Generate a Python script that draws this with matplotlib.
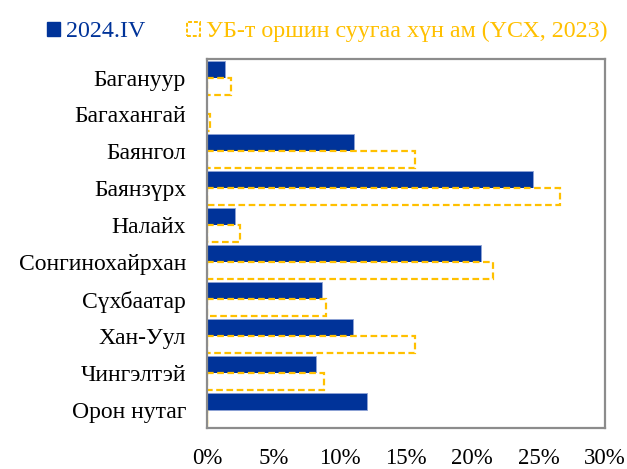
import numpy as np
import matplotlib.pyplot as plt
from matplotlib.patches import Patch
from matplotlib.ticker import PercentFormatter

plt.rcParams['font.family'] = ['Liberation Serif', 'DejaVu Serif']

districts = ['Багануур', 'Багахангай', 'Баянгол', 'Баянзүрх', 'Налайх',
             'Сонгинохайрхан', 'Сүхбаатар', 'Хан-Уул', 'Чингэлтэй', 'Орон нутаг']
q2024 = [1.35, 0.0, 11.1, 24.6, 2.15, 20.65, 8.7, 11.0, 8.2, 12.1]
pop2023 = [1.8, 0.25, 15.7, 26.6, 2.5, 21.55, 8.95, 15.7, 8.8, 0.0]

blue = '#003399'
orange = '#FFC000'

fig = plt.figure(figsize=(6.27, 4.69), dpi=100)
ax = fig.add_axes([0.330, 0.087, 0.635, 0.787])

y = np.arange(len(districts))
h = 0.46
ax.barh(y - h / 2, q2024, height=h, color=blue, edgecolor='#8fa3d6', linewidth=0.6)
ax.barh(y + h / 2, pop2023, height=h, facecolor='white', edgecolor=orange,
        linewidth=1.6, linestyle=(0, (3, 1.6)))

ax.set_ylim(len(districts) - 0.5, -0.5)
ax.set_xlim(0, 30)
ax.set_xticks(range(0, 31, 5))
ax.xaxis.set_major_formatter(PercentFormatter(decimals=0))
ax.set_yticks(y)
ax.set_yticklabels(districts)
ax.tick_params(axis='both', length=0, colors='black')
ax.tick_params(axis='y', pad=15, labelsize=17)
ax.tick_params(axis='x', pad=14, labelsize=16.5)
for s in ax.spines.values():
    s.set_color('#8c8c8c')
    s.set_linewidth(1.6)

handles = [Patch(facecolor=blue, edgecolor=blue),
           Patch(facecolor='white', edgecolor=orange, linestyle=(0, (2, 1)), linewidth=1.4)]
fig.legend(handles, ['2024.IV', 'УБ-т оршин суугаа хүн ам (ҮСХ, 2023)'],
           loc='center', bbox_to_anchor=(0.522, 0.932), ncol=2, frameon=False,
           fontsize=17.3, handlelength=0.55, handleheight=0.55, handletextpad=0.25,
           columnspacing=1.75, labelcolor=[blue, orange])

fig.savefig('out.png', dpi=100)
